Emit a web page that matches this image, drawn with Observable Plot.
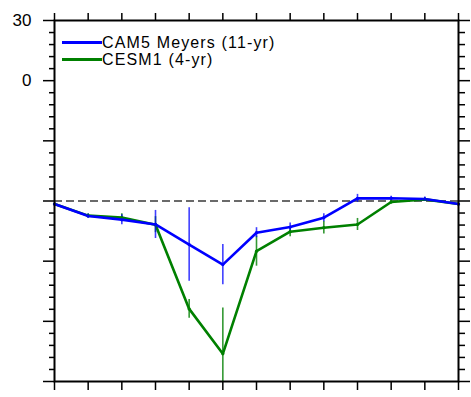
<!DOCTYPE html>
<html>
<head>
<meta charset="utf-8">
<script src="https://cdn.jsdelivr.net/npm/d3@7"></script>
<script src="https://cdn.jsdelivr.net/npm/@observablehq/plot@0.6"></script>
<style>
  html, body { margin: 0; padding: 0; background: #fff; }
  #wrap { position: relative; width: 471px; height: 397px; }
  #chart svg { overflow: visible; }
  #legend { position: absolute; left: 62px; top: 34px; font-family: "Liberation Sans", Arial, sans-serif; font-size: 16px; line-height: 15px; letter-spacing: 1.15px; color: #000; }
  .row { display: flex; align-items: center; height: 17px; }
  .sw { width: 40px; height: 2.5px; margin-right: 0px; }
</style>
</head>
<body>
<div id="wrap">
  <div id="chart"></div>
  <div id="legend"></div>
</div>
<script>
// ---- data ----
const steps = [0, 1, 2, 3, 4, 5, 6, 7, 8, 9, 10, 11, 12];
const seriesNames = ["CAM5 Meyers (11-yr)", "CESM1 (4-yr)"];
const seriesColors = ["#0000ff", "#008000"];
const cam5 = [-61.5, -67.5, -69.3, -71.7, -81.7, -91.7, -75.8, -73.0, -68.3, -58.7, -58.6, -59.0, -61.5];
const cam5Err = [0.5, 1, 2.5, 7, 18.3, 10, 2.5, 2, 2, 2, 1, 1, 0.5];
const cesm1 = [-61.5, -67.3, -68.3, -71.8, -113.8, -136.2, -85.0, -75.3, -73.3, -71.7, -60.5, -59.2, -61.5];
const cesm1Err = [0.5, 1, 2, 4, 4.7, 22.9, 7.5, 2.5, 3.2, 3, 1, 1, 0.5];
const refLine = [-60];
const yMajor = [-150, -120, -90, -60, -30, 0, 30];
const yLabelled = [0, 30];
const yMinor = [-144, -138, -132, -126, -114, -108, -102, -96, -84, -78, -72, -66, -54, -48, -42, -36, -24, -18, -12, -6, 6, 12, 18, 24];

// ---- build table ----
function rows(vals, errs, name) {
  return steps.map((s, i) => ({step: s, v: vals[i], lo: vals[i] - errs[i], hi: vals[i] + errs[i], name}));
}
const blue = rows(cam5, cam5Err, seriesNames[0]);
const green = rows(cesm1, cesm1Err, seriesNames[1]);

const fmt = d => yLabelled.includes(d) ? String(d) : "";
const font = '"Liberation Sans", Arial, sans-serif';

const chart = Plot.plot({
  width: 471,
  height: 397,
  marginLeft: 54,
  marginRight: 13,
  marginTop: 20,
  marginBottom: 16,
  style: {fontFamily: font, fontSize: "16px", background: "#fff", color: "#000", overflow: "visible"},
  x: {type: "linear", domain: [0, 12]},
  y: {type: "linear", domain: [-150, 30]},
  marks: [
    Plot.ruleY(refLine, {stroke: "#6a6a6a", strokeWidth: 2, strokeDasharray: "8,4"}),
    Plot.ruleX(green, {x: "step", y1: "lo", y2: "hi", stroke: seriesColors[1], strokeWidth: 1.6, strokeOpacity: 0.8, clip: true}),
    Plot.line(green, {x: "step", y: "v", stroke: seriesColors[1], strokeWidth: 2.6}),
    Plot.ruleX(blue, {x: "step", y1: "lo", y2: "hi", stroke: seriesColors[0], strokeWidth: 1.6, strokeOpacity: 0.75, clip: true}),
    Plot.line(blue, {x: "step", y: "v", stroke: seriesColors[0], strokeWidth: 2.6}),
    Plot.dot(green, {x: "step", y: "v", fill: seriesColors[1], r: 1.6}),
    Plot.dot(blue, {x: "step", y: "v", fill: seriesColors[0], r: 1.6}),
    Plot.axisY({anchor: "left", ticks: yMajor, tickSize: 11, tickPadding: 12, tickFormat: fmt, label: null}),
    Plot.axisY({anchor: "left", ticks: yMinor, tickSize: 5, tickFormat: () => "", label: null}),
    Plot.axisY({anchor: "right", ticks: yMajor, tickSize: 11, tickFormat: () => "", label: null}),
    Plot.axisY({anchor: "right", ticks: yMinor, tickSize: 6, tickFormat: () => "", label: null}),
    Plot.axisX({anchor: "bottom", ticks: steps, tickSize: 9, tickFormat: () => "", label: null}),
    Plot.axisX({anchor: "top", ticks: steps, tickSize: 8, tickFormat: () => "", label: null}),
    Plot.frame({stroke: "#000", strokeWidth: 2})
  ]
});
chart.querySelectorAll('[aria-label$="tick"] path, [aria-label$="tick"]').forEach(p => p.setAttribute("stroke-width", 1.5));
chart.querySelectorAll('text').forEach(t => { t.style.fontSize = "17px"; t.style.fontWeight = "400"; t.style.fontFamily = font; t.setAttribute("stroke", "none"); });
document.getElementById("chart").appendChild(chart);

// legend
const leg = document.getElementById("legend");
seriesNames.forEach((n, i) => {
  const r = document.createElement("div");
  r.className = "row";
  const sw = document.createElement("div");
  sw.className = "sw";
  sw.style.background = seriesColors[i];
  const t = document.createElement("span");
  t.textContent = n;
  r.appendChild(sw);
  r.appendChild(t);
  leg.appendChild(r);
});
</script>
</body>
</html>
